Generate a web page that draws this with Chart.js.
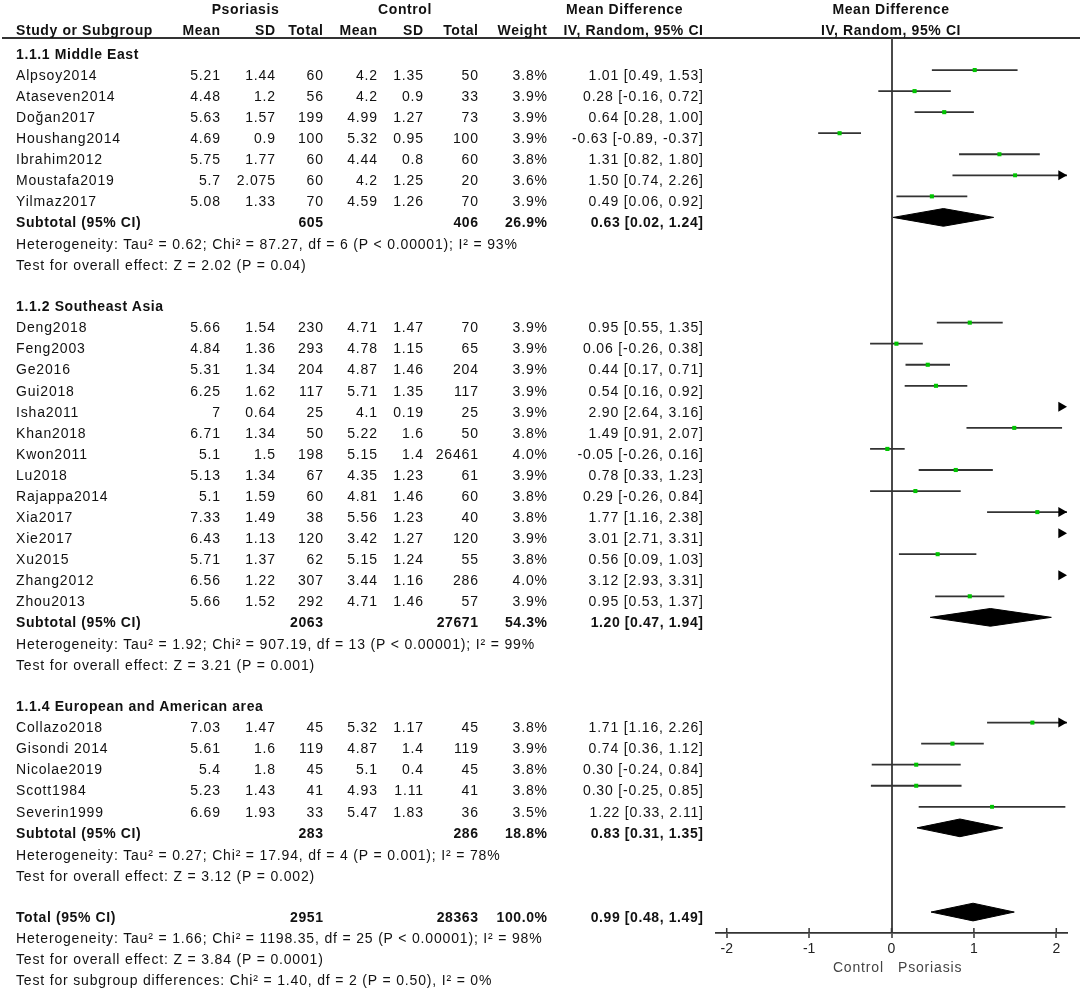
<!DOCTYPE html>
<html><head><meta charset="utf-8">
<script src="https://cdn.jsdelivr.net/npm/chart.js@4.4.0/dist/chart.umd.min.js"></script>
<style>
html,body{margin:0;padding:0;background:#fff;}
#wrap{position:relative;width:1084px;height:989px;overflow:hidden;font-family:"Liberation Sans",Arial,sans-serif;font-size:14px;color:#111;}
#wrap .t{position:absolute;line-height:21px;height:21px;white-space:pre;letter-spacing:0.83px;}
#wrap .b{font-weight:bold;letter-spacing:0.6px;}
#rule{position:absolute;left:2px;width:1078px;top:37px;height:2px;background:#333;}
#c{position:absolute;left:0;top:0;}
</style></head><body>
<div id="wrap"><div id="rule"></div><canvas id="c" width="1084" height="989"></canvas></div>
<script>
// ---------- data ----------
const groups = ["1.1.1 Middle East", "1.1.2 Southeast Asia", "1.1.4 European and American area"];
const studies = ["Alpsoy2014","Ataseven2014","Doğan2017","Houshang2014","Ibrahim2012","Moustafa2019","Yilmaz2017",
  "Deng2018","Feng2003","Ge2016","Gui2018","Isha2011","Khan2018","Kwon2011","Lu2018","Rajappa2014","Xia2017","Xie2017","Xu2015","Zhang2012","Zhou2013",
  "Collazo2018","Gisondi 2014","Nicolae2019","Scott1984","Severin1999"];
const studyGroup = [0,0,0,0,0,0,0, 1,1,1,1,1,1,1,1,1,1,1,1,1,1, 2,2,2,2,2];
const psoMean = [5.21,4.48,5.63,4.69,5.75,5.7,5.08, 5.66,4.84,5.31,6.25,7,6.71,5.1,5.13,5.1,7.33,6.43,5.71,6.56,5.66, 7.03,5.61,5.4,5.23,6.69];
const psoSD   = [1.44,1.2,1.57,0.9,1.77,2.075,1.33, 1.54,1.36,1.34,1.62,0.64,1.34,1.5,1.34,1.59,1.49,1.13,1.37,1.22,1.52, 1.47,1.6,1.8,1.43,1.93];
const psoN    = [60,56,199,100,60,60,70, 230,293,204,117,25,50,198,67,60,38,120,62,307,292, 45,119,45,41,33];
const ctlMean = [4.2,4.2,4.99,5.32,4.44,4.2,4.59, 4.71,4.78,4.87,5.71,4.1,5.22,5.15,4.35,4.81,5.56,3.42,5.15,3.44,4.71, 5.32,4.87,5.1,4.93,5.47];
const ctlSD   = [1.35,0.9,1.27,0.95,0.8,1.25,1.26, 1.47,1.15,1.46,1.35,0.19,1.6,1.4,1.23,1.46,1.23,1.27,1.24,1.16,1.46, 1.17,1.4,0.4,1.11,1.83];
const ctlN    = [50,33,73,100,60,20,70, 70,65,204,117,25,50,26461,61,60,40,120,55,286,57, 45,119,45,41,36];
const weights = [3.8,3.9,3.9,3.9,3.8,3.6,3.9, 3.9,3.9,3.9,3.9,3.9,3.8,4.0,3.9,3.8,3.8,3.9,3.8,4.0,3.9, 3.8,3.9,3.8,3.8,3.5];
const md      = [1.01,0.28,0.64,-0.63,1.31,1.50,0.49, 0.95,0.06,0.44,0.54,2.90,1.49,-0.05,0.78,0.29,1.77,3.01,0.56,3.12,0.95, 1.71,0.74,0.30,0.30,1.22];
const ciLo    = [0.49,-0.16,0.28,-0.89,0.82,0.74,0.06, 0.55,-0.26,0.17,0.16,2.64,0.91,-0.26,0.33,-0.26,1.16,2.71,0.09,2.93,0.53, 1.16,0.36,-0.24,-0.25,0.33];
const ciHi    = [1.53,0.72,1.00,-0.37,1.80,2.26,0.92, 1.35,0.38,0.71,0.92,3.16,2.07,0.16,1.23,0.84,2.38,3.31,1.03,3.31,1.37, 2.26,1.12,0.84,0.85,2.11];

const subPsoN   = [605, 2063, 283];
const subCtlN   = [406, 27671, 286];
const subWeight = [26.9, 54.3, 18.8];
const subMD     = [0.63, 1.20, 0.83];
const subLo     = [0.02, 0.47, 0.31];
const subHi     = [1.24, 1.94, 1.35];
const subHet = ["Heterogeneity: Tau² = 0.62; Chi² = 87.27, df = 6 (P < 0.00001); I² = 93%",
                "Heterogeneity: Tau² = 1.92; Chi² = 907.19, df = 13 (P < 0.00001); I² = 99%",
                "Heterogeneity: Tau² = 0.27; Chi² = 17.94, df = 4 (P = 0.001); I² = 78%"];
const subTest = ["Test for overall effect: Z = 2.02 (P = 0.04)",
                 "Test for overall effect: Z = 3.21 (P = 0.001)",
                 "Test for overall effect: Z = 3.12 (P = 0.002)"];
const totalPsoN = 2951, totalCtlN = 28363, totalWeight = 100.0;
const totalMD = 0.99, totalLo = 0.48, totalHi = 1.49;
const totalNotes = ["Heterogeneity: Tau² = 1.66; Chi² = 1198.35, df = 25 (P < 0.00001); I² = 98%",
                    "Test for overall effect: Z = 3.84 (P = 0.0001)",
                    "Test for subgroup differences: Chi² = 1.40, df = 2 (P = 0.50), I² = 0%"];
const xTicks = [-2, -1, 0, 1, 2];
const axisLabels = ["Control", "Psoriasis"];

// ---------- layout ----------
const ROW0 = 49, PITCH = 21.05;
const rowY = r => ROW0 + PITCH * r;
const X_MIN = -2.13, X_MAX = 2.13;
const Y_TOP = (38 - ROW0) / PITCH, Y_BOT = (933 - ROW0) / PITCH;

const wrap = document.getElementById('wrap');
function txt(str, top, o) {
  const d = document.createElement('div');
  d.className = 't' + (o.bold ? ' b' : '');
  d.textContent = str;
  d.style.top = top + 'px';
  if (o.left != null) d.style.left = o.left + 'px';
  if (o.right != null) { d.style.right = (1084 - o.right) + 'px'; d.style.marginRight = o.bold ? '-0.6px' : '-0.83px'; }
  if (o.center != null) { d.style.left = o.center + 'px'; d.style.transform = 'translateX(-50%)'; }
  if (o.color) d.style.color = o.color;
  wrap.appendChild(d);
}
const TOFF = -5.3;
const rowTop = r => rowY(r) + TOFF;
const ci = (m, l, h) => m.toFixed(2) + ' [' + l.toFixed(2) + ', ' + h.toFixed(2) + ']';

// header
txt('Psoriasis', -0.8, {center: 245.5, bold: true});
txt('Control', -0.8, {center: 405, bold: true});
txt('Mean Difference', -0.8, {center: 624.5, bold: true});
txt('Mean Difference', -0.8, {center: 891, bold: true});
txt('Study or Subgroup', 20.2, {left: 16, bold: true});
[['Mean',220],['SD',275],['Total',323],['Mean',377],['SD',423],['Total',478],['Weight',547],['IV, Random, 95% CI',703]]
  .forEach(([s, x]) => txt(s, 20.2, {right: x, bold: true}));
txt('IV, Random, 95% CI', 20.2, {center: 891, bold: true});

const studyRow = [], subRow = [];
let r = 0;
groups.forEach((g, gi) => {
  txt(g, rowTop(r), {left: 16, bold: true}); r++;
  studies.forEach((s, i) => {
    if (studyGroup[i] !== gi) return;
    studyRow[i] = r;
    const t = rowTop(r);
    txt(s, t, {left: 16});
    txt(String(psoMean[i]), t, {right: 220});
    txt(String(psoSD[i]), t, {right: 275});
    txt(String(psoN[i]), t, {right: 323});
    txt(String(ctlMean[i]), t, {right: 377});
    txt(String(ctlSD[i]), t, {right: 423});
    txt(String(ctlN[i]), t, {right: 478});
    txt(weights[i].toFixed(1) + '%', t, {right: 547});
    txt(ci(md[i], ciLo[i], ciHi[i]), t, {right: 703});
    r++;
  });
  subRow[gi] = r;
  const t = rowTop(r);
  txt('Subtotal (95% CI)', t, {left: 16, bold: true});
  txt(String(subPsoN[gi]), t, {right: 323, bold: true});
  txt(String(subCtlN[gi]), t, {right: 478, bold: true});
  txt(subWeight[gi].toFixed(1) + '%', t, {right: 547, bold: true});
  txt(ci(subMD[gi], subLo[gi], subHi[gi]), t, {right: 703, bold: true});
  r++;
  txt(subHet[gi], rowTop(r) + 1, {left: 16}); r++;
  txt(subTest[gi], rowTop(r) + 1, {left: 16}); r++;
  r++;
});
const totalRow = r;
{
  const t = rowTop(r);
  txt('Total (95% CI)', t, {left: 16, bold: true});
  txt(String(totalPsoN), t, {right: 323, bold: true});
  txt(String(totalCtlN), t, {right: 478, bold: true});
  txt(totalWeight.toFixed(1) + '%', t, {right: 547, bold: true});
  txt(ci(totalMD, totalLo, totalHi), t, {right: 703, bold: true});
  totalNotes.forEach((s, k) => txt(s, rowTop(r + 1 + k) + 0.5, {left: 16}));
}
txt(axisLabels[0], 957, {right: 883, color: '#444'});
txt(axisLabels[1], 957, {left: 898, color: '#444'});

// ---------- chart ----------
const datasets = [];
studies.forEach((s, i) => {
  datasets.push({type: 'line', data: [{x: ciLo[i], y: studyRow[i]}, {x: ciHi[i], y: studyRow[i]}],
    borderColor: '#333', borderWidth: 1.8, pointRadius: 0, fill: false, tension: 0, order: 3});
});
datasets.push({type: 'scatter', data: studies.map((s, i) => ({x: md[i], y: studyRow[i]})),
  pointStyle: 'rect', pointRadius: weights.map(w => 2.9 * Math.sqrt(w / 3.9)),
  backgroundColor: '#00c400', borderWidth: 0, order: 1});
const arrowIdx = studies.map((s, i) => i).filter(i => ciHi[i] > X_MAX);
datasets.push({type: 'scatter', data: arrowIdx.map(i => ({x: X_MAX - 0.07, y: studyRow[i]})),
  pointStyle: 'triangle', rotation: 90, pointRadius: 5.8, backgroundColor: '#000', borderColor: '#000', borderWidth: 0, clip: false, order: 2});
const H = 0.42;
const diamond = (m, lo, hi, y) => [{x: lo, y}, {x: m, y: y - H}, {x: hi, y}, {x: m, y: y + H}, {x: lo, y}];
subMD.forEach((m, gi) => datasets.push({type: 'line', data: diamond(m, subLo[gi], subHi[gi], subRow[gi]),
  fill: 'shape', backgroundColor: '#000', borderColor: '#000', borderWidth: 1, pointRadius: 0, tension: 0, order: 2}));
datasets.push({type: 'line', data: diamond(totalMD, totalLo, totalHi, totalRow),
  fill: 'shape', backgroundColor: '#000', borderColor: '#000', borderWidth: 1, pointRadius: 0, tension: 0, order: 2});

const tickUp = {id: 'tickUp', afterDraw(chart) {
  const s = chart.scales.x, ctx = chart.ctx;
  ctx.save(); ctx.strokeStyle = '#333'; ctx.lineWidth = 1.5;
  xTicks.forEach(v => { const px = s.getPixelForValue(v); ctx.beginPath(); ctx.moveTo(px, s.top); ctx.lineTo(px, s.top - 5); ctx.stroke(); });
  ctx.restore();
}};

new Chart(document.getElementById('c'), {
  type: 'scatter',
  data: {datasets},
  plugins: [tickUp],
  options: {
    responsive: false, animation: false, events: [],
    layout: {padding: {left: 716, right: 17, top: 38, bottom: 0}},
    plugins: {legend: {display: false}, tooltip: {enabled: false}},
    scales: {
      x: {type: 'linear', min: X_MIN, max: X_MAX,
        afterBuildTicks: s => { s.ticks = xTicks.map(v => ({value: v})); },
        afterFit: s => { s.height = 56; },
        grid: {drawOnChartArea: true, color: c => (c.tick && c.tick.value === 0) ? '#4a4a4a' : 'rgba(0,0,0,0)',
          lineWidth: 2, drawTicks: true, tickLength: 5, tickColor: '#333', tickWidth: 1.5},
        border: {display: true, color: '#333', width: 1.8},
        ticks: {color: '#222', font: {family: '"Liberation Sans", Arial, sans-serif', size: 14}, padding: 3,
          autoSkip: false, maxRotation: 0, callback: v => String(v)}},
      y: {type: 'linear', min: Y_TOP, max: Y_BOT, reverse: true, display: false}
    }
  }
});
</script>
</body></html>
